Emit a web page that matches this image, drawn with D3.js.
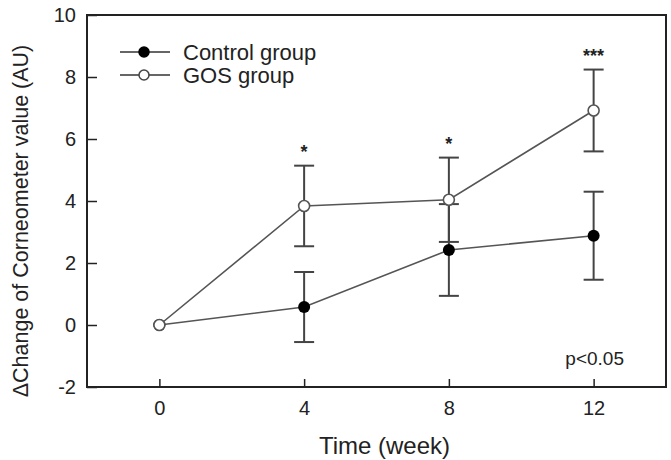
<!DOCTYPE html>
<html>
<head>
<meta charset="utf-8">
<script src="https://cdn.jsdelivr.net/npm/d3@7"></script>
<style>
  body { margin: 0; background: #fff; }
  text { font-family: "Liberation Sans", Arial, Helvetica, sans-serif; fill: #222; }
</style>
</head>
<body>
<div id="chart"></div>
<script>
// values
const weeks = [0, 4, 8, 12];
const controlMean = [0, 0.58, 2.42, 2.88];
const controlErr = [0, 1.13, 1.48, 1.42];
const gosMean = [0, 3.84, 4.04, 6.92];
const gosErr = [0, 1.3, 1.36, 1.32];
const sigMarks = ["", "*", "*", "***"];
const yTicks = [-2, 0, 2, 4, 6, 8, 10];

const margin = { top: 15, right: 5, bottom: 73, left: 87 };
const width = 671 - margin.left - margin.right;
const height = 460 - margin.top - margin.bottom;

const svg = d3.select("#chart")
  .append("svg")
  .attr("width", 671)
  .attr("height", 460)
  .append("g")
  .attr("transform", `translate(${margin.left},${margin.top})`);

const x = d3.scaleLinear().domain([-2, 14]).range([0, width]);
const y = d3.scaleLinear().domain([-2, 10]).range([height, 0]);

// axes, ticks pointing inward; plain hyphen for negatives like the original
const xAxis = svg.append("g")
  .attr("transform", `translate(0,${height})`)
  .call(d3.axisBottom(x).tickValues(weeks).tickSizeInner(-8).tickSizeOuter(0).tickPadding(14)
    .tickFormat(function(d) { return String(d); }));
const yAxis = svg.append("g")
  .call(d3.axisLeft(y).tickValues(yTicks).tickSizeInner(-10).tickSizeOuter(0).tickPadding(11)
    .tickFormat(function(d) { return String(d); }));

[xAxis, yAxis].forEach(function(g) {
  g.select(".domain").remove();
  g.selectAll(".tick line").attr("stroke", "#222").attr("stroke-width", 1.5);
  g.selectAll(".tick text")
    .style("font-family", "Liberation Sans, Arial, sans-serif")
    .style("font-size", "20px")
    .attr("fill", "#222");
});

// frame
svg.append("rect")
  .attr("width", width)
  .attr("height", height)
  .attr("fill", "none")
  .attr("stroke", "#222")
  .attr("stroke-width", 2);

const line = d3.line()
  .x(function(d) { return x(d[0]); })
  .y(function(d) { return y(d[1]); });

function drawSeries(means, errs, filled) {
  const pts = weeks.map(function(w, i) { return [w, means[i], errs[i]]; });

  svg.append("path")
    .datum(pts)
    .attr("fill", "none")
    .attr("stroke", "#555")
    .attr("stroke-width", 1.6)
    .attr("d", line);

  const bars = svg.append("g")
    .selectAll("g")
    .data(pts.filter(function(d) { return d[2] > 0; }))
    .enter()
    .append("g")
    .attr("stroke", "#444")
    .attr("stroke-width", 2);

  bars.append("line")
    .attr("x1", function(d) { return x(d[0]); })
    .attr("x2", function(d) { return x(d[0]); })
    .attr("y1", function(d) { return y(d[1] - d[2]); })
    .attr("y2", function(d) { return y(d[1] + d[2]); });

  [-1, 1].forEach(function(s) {
    bars.append("line")
      .attr("x1", function(d) { return x(d[0]) - 10; })
      .attr("x2", function(d) { return x(d[0]) + 10; })
      .attr("y1", function(d) { return y(d[1] + s * d[2]); })
      .attr("y2", function(d) { return y(d[1] + s * d[2]); });
  });

  svg.append("g")
    .selectAll("circle")
    .data(pts)
    .enter()
    .append("circle")
    .attr("cx", function(d) { return x(d[0]); })
    .attr("cy", function(d) { return y(d[1]); })
    .attr("r", filled ? 6 : 5.5)
    .attr("fill", filled ? "#000" : "#fff")
    .attr("stroke", filled ? "none" : "#555")
    .attr("stroke-width", 1.6);
}

drawSeries(controlMean, controlErr, true);
drawSeries(gosMean, gosErr, false);

// significance stars above the GOS error bars
svg.append("g")
  .selectAll("text")
  .data(weeks)
  .enter()
  .append("text")
  .attr("x", function(d) { return x(d); })
  .attr("y", function(d, i) { return y(gosMean[i] + gosErr[i]) - 8; })
  .attr("text-anchor", "middle")
  .style("font-size", "18px")
  .style("font-weight", "bold")
  .text(function(d, i) { return sigMarks[i]; });

// legend
const legend = [
  { label: "Control group", filled: true },
  { label: "GOS group", filled: false }
];
const lg = svg.append("g").attr("transform", "translate(33,37)");
legend.forEach(function(d, i) {
  const row = lg.append("g").attr("transform", `translate(0,${i * 23})`);
  row.append("line")
    .attr("x1", 0).attr("x2", 50)
    .attr("stroke", "#333").attr("stroke-width", 1.6);
  row.append("circle")
    .attr("cx", 24).attr("r", 5)
    .attr("fill", d.filled ? "#000" : "#fff")
    .attr("stroke", d.filled ? "#000" : "#444")
    .attr("stroke-width", 1.5);
  row.append("text")
    .attr("x", 63)
    .attr("dy", "0.35em")
    .style("font-size", "22px")
    .text(d.label);
});

svg.append("text")
  .attr("x", width - 42)
  .attr("y", height - 22)
  .attr("text-anchor", "end")
  .style("font-size", "19px")
  .text("p<0.05");

// axis titles
svg.append("text")
  .attr("x", width / 2 + 8)
  .attr("y", height + 67)
  .attr("text-anchor", "middle")
  .style("font-size", "24px")
  .text("Time (week)");

svg.append("text")
  .attr("transform", `translate(${-59},${height / 2 + 20}) rotate(-90)`)
  .attr("text-anchor", "middle")
  .style("font-size", "21.5px")
  .text("\u0394Change of Corneometer value (AU)");
</script>
</body>
</html>
